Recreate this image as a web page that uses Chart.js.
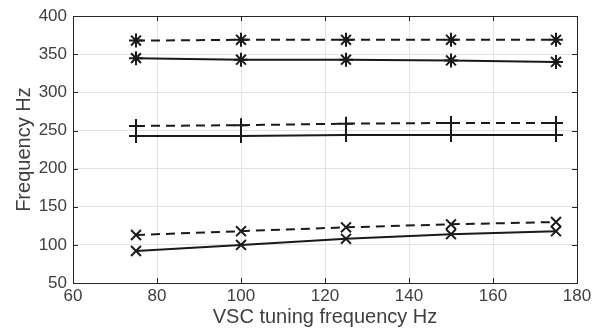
<!DOCTYPE html>
<html>
<head>
<meta charset="utf-8">
<script src="https://cdn.jsdelivr.net/npm/chart.js@4.4.0/dist/chart.umd.min.js"></script>
<style>
  html, body { margin: 0; padding: 0; background: #fff; }
  #wrap { width: 607px; height: 332px; }
</style>
</head>
<body>
<div id="wrap"><canvas id="canvas1" width="607" height="332"></canvas></div>
<script>
// VSC tuning frequency (x) and resulting frequencies (y)
var freqs = [75, 100, 125, 150, 175];
var starDashed = [368, 369, 369, 369, 369];
var starSolid = [345, 343, 343, 342, 340];
var plusDashed = [256, 257, 259, 260, 260];
var plusSolid = [243, 243, 244, 244, 244];
var crossDashed = [113, 118, 123, 127, 130];
var crossSolid = [92, 100, 108, 114, 118];

var xTicks = [60, 80, 100, 120, 140, 160, 180];
var yTicks = [50, 100, 150, 200, 250, 300, 350, 400];

var ink = "#1a1a1a";
var axisCol = "#262626";

function pts(ys) {
  return freqs.map(function(f, i) { return { x: f, y: ys[i] }; });
}

function serie(ys, style, radius, dashed) {
  return {
    data: pts(ys),
    showLine: true,
    borderColor: ink,
    backgroundColor: ink,
    borderWidth: 2,
    borderDash: dashed ? [9, 6] : [],
    pointStyle: style,
    pointRadius: radius,
    pointHoverRadius: radius,
    pointBorderWidth: 2,
    pointBorderColor: ink
  };
}

// box around the plot with matlab-like inward ticks
var frame = {
  id: "frame",
  afterDraw: function(chart) {
    var ctx = chart.ctx, a = chart.chartArea;
    var sx = chart.scales.x, sy = chart.scales.y;
    ctx.save();
    ctx.strokeStyle = axisCol;
    ctx.lineWidth = 1;
    ctx.strokeRect(Math.round(a.left) + 0.5, Math.round(a.top) + 0.5,
                   Math.round(a.right - a.left), Math.round(a.bottom - a.top));
    ctx.beginPath();
    xTicks.forEach(function(v) {
      var px = Math.round(sx.getPixelForValue(v)) + 0.5;
      ctx.moveTo(px, a.bottom); ctx.lineTo(px, a.bottom - 5);
      ctx.moveTo(px, a.top); ctx.lineTo(px, a.top + 5);
    });
    yTicks.forEach(function(v) {
      var py = Math.round(sy.getPixelForValue(v)) + 0.5;
      ctx.moveTo(a.left, py); ctx.lineTo(a.left + 5, py);
      ctx.moveTo(a.right, py); ctx.lineTo(a.right - 5, py);
    });
    ctx.stroke();
    ctx.restore();
  }
};

Chart.defaults.font.family = "'Liberation Sans', Arial, Helvetica, sans-serif";
Chart.defaults.color = axisCol;

new Chart(document.getElementById("canvas1"), {
  type: "scatter",
  data: {
    datasets: [
      serie(starDashed, "star", 7, true),
      serie(starSolid, "star", 7, false),
      serie(plusDashed, "cross", 7, true),
      serie(plusSolid, "cross", 7, false),
      serie(crossDashed, "crossRot", 7, true),
      serie(crossSolid, "crossRot", 7, false)
    ]
  },
  options: {
    responsive: false,
    animation: false,
    layout: { padding: { left: 0, right: 30, top: 12, bottom: 0 } },
    plugins: { legend: { display: false }, tooltip: { enabled: false } },
    scales: {
      x: {
        type: "linear",
        min: 60, max: 180,
        afterBuildTicks: function(s) { s.ticks = xTicks.map(function(v) { return { value: v }; }); },
        afterFit: function(s) { s.height = 49; },
        grid: { color: "#e3e3e3", drawTicks: false },
        border: { display: false },
        ticks: { font: { size: 17 }, padding: 3, maxRotation: 0, color: "#404040" },
        title: { display: true, text: "VSC tuning frequency Hz", font: { size: 20 }, padding: { top: 0, bottom: 3 }, color: "#404040" }
      },
      y: {
        type: "linear",
        min: 50, max: 400,
        afterBuildTicks: function(s) { s.ticks = yTicks.map(function(v) { return { value: v }; }); },
        afterFit: function(s) { s.width = 73; },
        grid: { color: "#e3e3e3", drawTicks: false },
        border: { display: false },
        ticks: { font: { size: 17 }, padding: 6, color: "#404040" },
        title: { display: true, text: "Frequency Hz", font: { size: 20 }, padding: { top: 12, bottom: 0 }, color: "#404040" }
      }
    }
  },
  plugins: [frame]
});
</script>
</body>
</html>
